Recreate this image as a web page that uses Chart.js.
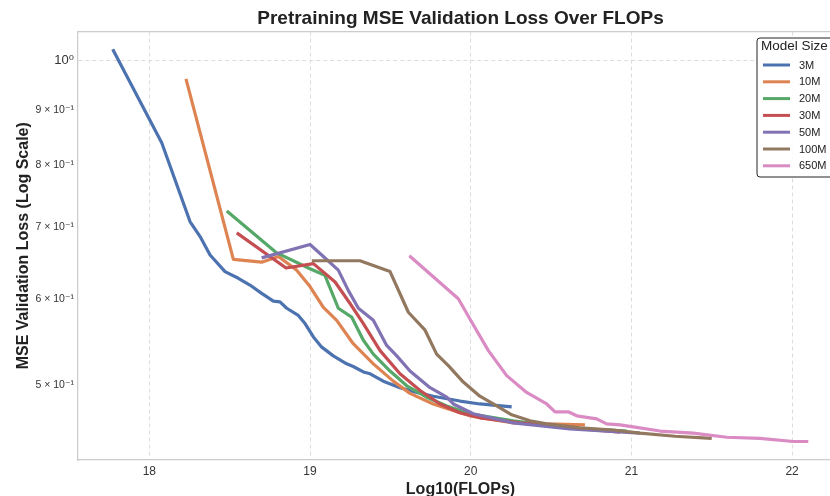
<!DOCTYPE html>
<html><head><meta charset="utf-8">
<script src="https://cdn.jsdelivr.net/npm/chart.js@4/dist/chart.umd.min.js"></script>
<style>
html,body{margin:0;padding:0;background:#fff;overflow:hidden;width:830px;height:496px}
#wrap{position:absolute;left:0;top:0;width:920px;height:510px}
</style>
</head><body><div id="wrap"><canvas id="c" width="920" height="510"></canvas></div>
<script>
const modelSizes = ['3M','10M','20M','30M','50M','100M','650M'];
const seriesColors = ['#4C72B0','#DD8452','#55A868','#C44E52','#8172B3','#937860','#DA8BC3'];

const flops3M = [17.772,18.077,18.253,18.315,18.378,18.471,18.554,18.626,18.699,18.772,18.813,18.855,18.927,18.969,19.021,19.073,19.145,19.228,19.269,19.332,19.374,19.456,19.560,19.664,19.767,19.933,20.057,20.255];
const loss3M  = [1.025,0.839,0.709,0.687,0.660,0.637,0.628,0.619,0.608,0.598,0.597,0.589,0.580,0.570,0.554,0.542,0.532,0.523,0.520,0.514,0.512,0.504,0.497,0.492,0.488,0.483,0.480,0.477];

const flops10M = [18.228,18.523,18.699,18.803,18.917,19.000,19.083,19.166,19.269,19.394,19.518,19.622,19.767,19.933,19.996,20.265,20.473,20.711];
const loss10M  = [0.962,0.654,0.650,0.658,0.639,0.617,0.590,0.574,0.546,0.523,0.504,0.491,0.480,0.471,0.468,0.461,0.460,0.459];

const flops20M = [18.482,18.793,19.000,19.093,19.176,19.259,19.332,19.394,19.498,19.602,19.726,19.851,19.996,20.265,20.597,20.971];
const loss20M  = [0.725,0.663,0.641,0.632,0.589,0.578,0.550,0.534,0.515,0.499,0.487,0.478,0.470,0.463,0.456,0.453];

const flops30M = [18.544,18.851,19.021,19.156,19.249,19.332,19.436,19.560,19.685,19.809,19.933,20.057,20.307,20.618,20.930];
const loss30M  = [0.692,0.642,0.648,0.623,0.595,0.570,0.538,0.512,0.494,0.480,0.471,0.466,0.461,0.456,0.452];

const flops50M = [18.699,19.000,19.083,19.176,19.238,19.301,19.394,19.477,19.540,19.622,19.747,19.851,19.892,20.016,20.265,20.618,21.054];
const loss50M  = [0.656,0.675,0.658,0.639,0.612,0.589,0.574,0.544,0.532,0.515,0.497,0.487,0.480,0.470,0.461,0.455,0.451];

const flops100M = [19.011,19.311,19.498,19.612,19.716,19.788,19.861,19.954,20.057,20.162,20.255,20.369,20.473,20.680,20.887,21.054,21.271,21.500];
const loss100M  = [0.652,0.652,0.637,0.584,0.562,0.534,0.521,0.503,0.488,0.478,0.469,0.463,0.460,0.456,0.454,0.451,0.448,0.446];

const flops650M = [19.618,19.923,20.006,20.110,20.224,20.348,20.473,20.525,20.607,20.660,20.784,20.846,20.929,21.012,21.178,21.385,21.593,21.800,22.007,22.101];
const loss650M  = [0.659,0.601,0.572,0.538,0.510,0.492,0.480,0.472,0.472,0.468,0.465,0.460,0.459,0.457,0.453,0.451,0.447,0.446,0.443,0.443];

const xTickValues = [18,19,20,21,22];
const yTickValues = [0.5,0.6,0.7,0.8,0.9,1.0];

const allFlops = [flops3M,flops10M,flops20M,flops30M,flops50M,flops100M,flops650M];
const allLoss  = [loss3M,loss10M,loss20M,loss30M,loss50M,loss100M,loss650M];

const FONT = '"Liberation Sans", Arial, "DejaVu Sans", sans-serif';
Chart.defaults.font.family = FONT;
Chart.defaults.color = '#333';

const datasets = modelSizes.map((name,i)=>({
  label: name,
  data: allFlops[i].map((x,j)=>({x:x, y:allLoss[i][j]})),
  borderColor: seriesColors[i],
  backgroundColor: seriesColors[i],
  borderWidth: 3.2,
  pointRadius: 0,
  tension: 0,
  fill: false,
  borderJoinStyle: 'round',
  order: modelSizes.length - 1 - i
}));

const frame = {
  id: 'frame',
  afterDraw(chart){
    const {ctx, chartArea:a} = chart;
    ctx.save();
    ctx.strokeStyle = '#cccccc';
    ctx.lineWidth = 1.25;
    ctx.beginPath();
    ctx.moveTo(a.left, a.top); ctx.lineTo(a.right, a.top); ctx.lineTo(a.right, a.bottom);
    ctx.stroke();
    // legend
    const x0 = 757, y0 = 38, w = 95, h = 139, r = 3;
    ctx.fillStyle = 'rgba(255,255,255,0.9)';
    ctx.strokeStyle = '#222';
    ctx.lineWidth = 1;
    ctx.beginPath();
    ctx.moveTo(x0+r, y0); ctx.lineTo(x0+w-r, y0); ctx.arcTo(x0+w, y0, x0+w, y0+r, r);
    ctx.lineTo(x0+w, y0+h-r); ctx.arcTo(x0+w, y0+h, x0+w-r, y0+h, r);
    ctx.lineTo(x0+r, y0+h); ctx.arcTo(x0, y0+h, x0, y0+h-r, r);
    ctx.lineTo(x0, y0+r); ctx.arcTo(x0, y0, x0+r, y0, r);
    ctx.closePath(); ctx.fill(); ctx.stroke();
    ctx.fillStyle = '#222';
    ctx.textBaseline = 'middle';
    ctx.textAlign = 'left';
    ctx.font = '13.5px ' + FONT;
    ctx.fillText('Model Size', 761, 46.5);
    ctx.font = '11px ' + FONT;
    chart.data.datasets.forEach((ds,i)=>{
      const y = 65 + i*16.8;
      ctx.strokeStyle = ds.borderColor;
      ctx.lineWidth = 3;
      ctx.beginPath(); ctx.moveTo(763, y); ctx.lineTo(790, y); ctx.stroke();
      ctx.fillStyle = '#222';
      ctx.fillText(ds.label, 799, y + 0.5);
    });
    ctx.restore();
  }
};

new Chart(document.getElementById('c'), {
  type: 'line',
  data: { datasets },
  options: {
    responsive: false,
    animation: false,
    layout: { padding: { left: 0, right: 77, top: 0, bottom: 0 } },
    plugins: {
      legend: { display: false },
      tooltip: { enabled: false },
      title: {
        display: true,
        fullSize: false,
        text: 'Pretraining MSE Validation Loss Over FLOPs',
        color: '#222',
        font: { size: 19, weight: 'bold', family: FONT },
        padding: { top: 7, bottom: 1.7 }
      }
    },
    scales: {
      x: {
        type: 'linear',
        min: 17.556, max: 22.317,
        afterBuildTicks(scale){ scale.ticks = xTickValues.map(v=>({value:v})); },
        afterFit(scale){ scale.height = 50; },
        ticks: { autoSkip: false, maxRotation: 0, padding: 4, color: '#333', font: { size: 12 },
                 callback: v => String(v) },
        grid: { display: true, color: '#dddddd', lineWidth: 1, drawTicks: false },
        border: { display: true, color: '#cccccc', width: 1.25, dash: [4,3] },
        title: { display: true, text: 'Log10(FLOPs)', color: '#222',
                 font: { size: 16, weight: 'bold', family: FONT }, padding: { top: 0, bottom: 10.5 } }
      },
      y: {
        type: 'logarithmic',
        min: 0.4258, max: 1.0644,
        afterBuildTicks(scale){ scale.ticks = yTickValues.map(v=>({value:v})); },
        afterFit(scale){ scale.width = 78; },
        ticks: {
          autoSkip: false, padding: 4, color: '#333',
          font: ctx => (ctx.tick && ctx.tick.value === 1) ? { size: 13 } : { size: 10.5 },
          callback: v => (v === 1) ? '10\u2070' : (Math.round(v*10) + ' \u00d7 10\u207b\u00b9')
        },
        grid: { display: true, drawTicks: false, lineWidth: 1,
                color: ctx => (ctx.tick && ctx.tick.value === 1) ? '#dddddd' : 'rgba(0,0,0,0)' },
        border: { display: true, color: '#cccccc', width: 1.25, dash: [4,3] },
        title: { display: true, text: 'MSE Validation Loss (Log Scale)', color: '#222',
                 font: { size: 16, weight: 'bold', family: FONT }, padding: { top: 13.5, bottom: 0 } }
      }
    }
  },
  plugins: [frame]
});
</script>
</body></html>
